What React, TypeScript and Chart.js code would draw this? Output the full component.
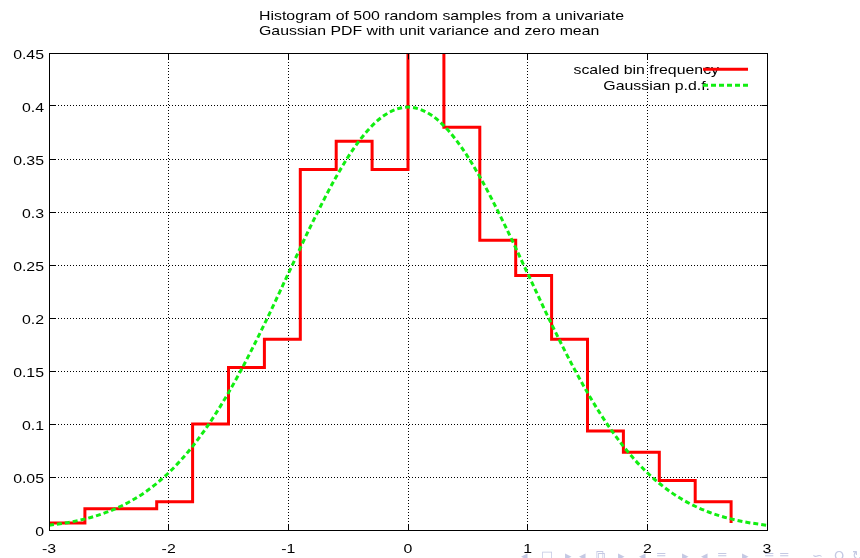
import { useEffect, useRef } from 'react';
import { Chart, registerables } from 'chart.js';

Chart.register(...registerables);

// ---------- data ----------
const TITLE_LINES = [
  'Histogram of 500 random samples from a univariate',
  'Gaussian PDF with unit variance and zero mean',
];
const SERIES_LABELS = ['scaled bin frequency', 'Gaussian p.d.f.'];

// left edge of each bin (width 0.3) and its scaled frequency (count / (500*0.3))
const binLeftEdges = [-3, -2.7, -2.4, -2.1, -1.8, -1.5, -1.2, -0.9, -0.6, -0.3, 0, 0.3, 0.6, 0.9, 1.2, 1.5, 1.8, 2.1, 2.4, 2.7];
const binFrequency = [0.0067, 0.02, 0.02, 0.0267, 0.1, 0.1533, 0.18, 0.34, 0.3667, 0.34, 0.46, 0.38, 0.2733, 0.24, 0.18, 0.0933, 0.0733, 0.0467, 0.0267, 0.0067];

// Gaussian p.d.f. curve
const pdfX = [-3, -2.8, -2.6, -2.4, -2.2, -2, -1.8, -1.6, -1.4, -1.2, -1, -0.8, -0.6, -0.4, -0.2, 0, 0.2, 0.4, 0.6, 0.8, 1, 1.2, 1.4, 1.6, 1.8, 2, 2.2, 2.4, 2.6, 2.8, 3];
const pdfY = [0.00443, 0.00792, 0.01358, 0.02239, 0.03547, 0.05399, 0.07895, 0.11092, 0.14973, 0.19419, 0.24197, 0.28969, 0.33322, 0.36827, 0.39104, 0.39894, 0.39104, 0.36827, 0.33322, 0.28969, 0.24197, 0.19419, 0.14973, 0.11092, 0.07895, 0.05399, 0.03547, 0.02239, 0.01358, 0.00792, 0.00443];

const xTickValues = [-3, -2, -1, 0, 1, 2, 3];
const xTickLabels = ['-3', '-2', '-1', '0', '1', '2', '3'];
const yTickValues = [0, 0.05, 0.1, 0.15, 0.2, 0.25, 0.3, 0.35, 0.4, 0.45];
const yTickLabels = ['0', '0.05', '0.1', '0.15', '0.2', '0.25', '0.3', '0.35', '0.4', '0.45'];

// ---------- styling ----------
const SX = 1.175; // horizontal stretch of the text, as in the reference
const FONT = '13.5px "Liberation Sans", Arial, Helvetica, sans-serif';
const TICK_LEN = 6;

const NAV_GLYPHS: [string, number][] = [
  ['◂', 521], ['□', 541], ['▸', 565], ['◂', 579], ['⧉', 596], ['▸', 618],
  ['◂', 639], ['≡', 656], ['▸', 682], ['◂', 701], ['≡', 717], ['▸', 742],
  ['≡', 764], ['≡', 779], ['∽', 812], ['Q', 834], ['↻', 852],
];

function drawStretched(ctx: CanvasRenderingContext2D, text: string, x: number, y: number, align: CanvasTextAlign) {
  ctx.save();
  ctx.translate(x, y);
  ctx.scale(SX, 1);
  ctx.textAlign = align;
  ctx.textBaseline = 'alphabetic';
  ctx.fillText(text, 0, 0);
  ctx.restore();
}

const al = (p: number) => Math.round(p - 0.5) + 0.5;

const decorPlugin = {
  id: 'gnuplotDecor',
  afterDraw(chart: any) {
    const ctx: CanvasRenderingContext2D = chart.ctx;
    const a = chart.chartArea;
    const xs = chart.scales.x;
    const ys = chart.scales.y;
    const L = al(a.left), R = al(a.right), T = al(a.top), B = al(a.bottom);

    ctx.save();
    // border
    ctx.strokeStyle = '#000';
    ctx.lineWidth = 1;
    ctx.setLineDash([]);
    ctx.strokeRect(L, T, R - L, B - T);

    // inward tick marks (all four sides)
    ctx.beginPath();
    xTickValues.forEach((v) => {
      const px = al(xs.getPixelForValue(v));
      ctx.moveTo(px, B); ctx.lineTo(px, B - TICK_LEN);
      ctx.moveTo(px, T); ctx.lineTo(px, T + TICK_LEN);
    });
    yTickValues.forEach((v) => {
      const py = al(ys.getPixelForValue(v));
      ctx.moveTo(L, py); ctx.lineTo(L + TICK_LEN, py);
      ctx.moveTo(R, py); ctx.lineTo(R - TICK_LEN, py);
    });
    ctx.stroke();

    // tick labels
    ctx.fillStyle = '#000';
    ctx.font = FONT;
    xTickValues.forEach((v, i) => {
      drawStretched(ctx, xTickLabels[i], xs.getPixelForValue(v), a.bottom + 23, 'center');
    });
    yTickValues.forEach((v, i) => {
      drawStretched(ctx, yTickLabels[i], a.left - 5, ys.getPixelForValue(v) + 5.5, 'right');
    });

    // title
    drawStretched(ctx, TITLE_LINES[0], 259, 19.5, 'left');
    drawStretched(ctx, TITLE_LINES[1], 259, 35, 'left');

    // key (top right, inside the plot)
    const textRight = [a.right - 48, a.right - 57];
    chart.data.datasets.forEach((ds: any, i: number) => {
      const lineY = a.top + 16.3 + i * 16;
      ctx.fillStyle = '#000';
      drawStretched(ctx, ds.label, textRight[i], a.top + 21 + i * 16, 'right');
      ctx.beginPath();
      ctx.strokeStyle = ds.borderColor;
      ctx.lineWidth = ds.borderWidth;
      ctx.setLineDash(ds.borderDash || []);
      ctx.lineCap = 'butt';
      ctx.moveTo(a.right - 64, lineY);
      ctx.lineTo(a.right - 19, lineY);
      ctx.stroke();
    });
    ctx.restore();
  },
};

export default function App() {
  const ref = useRef<HTMLCanvasElement>(null);

  useEffect(() => {
    const canvas = ref.current;
    if (!canvas) return;
    const chart = new Chart(canvas, {
      type: 'line',
      data: {
        datasets: [
          {
            label: SERIES_LABELS[0],
            data: binLeftEdges.map((x, i) => ({ x, y: binFrequency[i] })),
            borderColor: '#ff0000',
            borderWidth: 3,
            stepped: 'before',
            pointRadius: 0,
            fill: false,
            borderJoinStyle: 'miter',
            order: 2,
          },
          {
            label: SERIES_LABELS[1],
            data: pdfX.map((x, i) => ({ x, y: pdfY[i] })),
            borderColor: '#11ee11',
            borderWidth: 3,
            borderDash: [5, 3],
            pointRadius: 0,
            fill: false,
            cubicInterpolationMode: 'monotone',
            order: 1,
          },
        ],
      },
      options: {
        animation: false,
        responsive: false,
        devicePixelRatio: 1,
        layout: { padding: { top: 53, right: 93, bottom: 0, left: 0 } },
        events: [],
        plugins: {
          legend: { display: false },
          title: { display: false },
          tooltip: { enabled: false },
        },
        scales: {
          x: {
            type: 'linear',
            min: -3,
            max: 3,
            afterBuildTicks: (s: any) => { s.ticks = xTickValues.map((v) => ({ value: v })); },
            afterFit: (s: any) => { s.height = 28; },
            ticks: { display: false },
            grid: { color: '#000', lineWidth: 1, drawTicks: false },
            border: { display: false, dash: [1, 2] },
          },
          y: {
            type: 'linear',
            min: 0,
            max: 0.45,
            afterBuildTicks: (s: any) => { s.ticks = yTickValues.map((v) => ({ value: v })); },
            afterFit: (s: any) => { s.width = 49; },
            ticks: { display: false },
            grid: { color: '#000', lineWidth: 1, drawTicks: false },
            border: { display: false, dash: [1, 2] },
          },
        },
      } as any,
      plugins: [decorPlugin],
    });
    return () => chart.destroy();
  }, []);

  return (
    <div style={{ position: 'absolute', left: 0, top: 0, width: 860, height: 558, overflow: 'hidden', background: '#fff' }}>
      <canvas ref={ref} width={860} height={558} style={{ display: 'block' }} />
      {NAV_GLYPHS.map(([g, x], i) => (
        <span
          key={i}
          style={{
            position: 'absolute', left: x, top: 549, fontSize: 13, lineHeight: '14px',
            color: '#c4c9e4', fontFamily: '"DejaVu Sans", sans-serif', pointerEvents: 'none',
          }}
        >
          {g}
        </span>
      ))}
    </div>
  );
}
